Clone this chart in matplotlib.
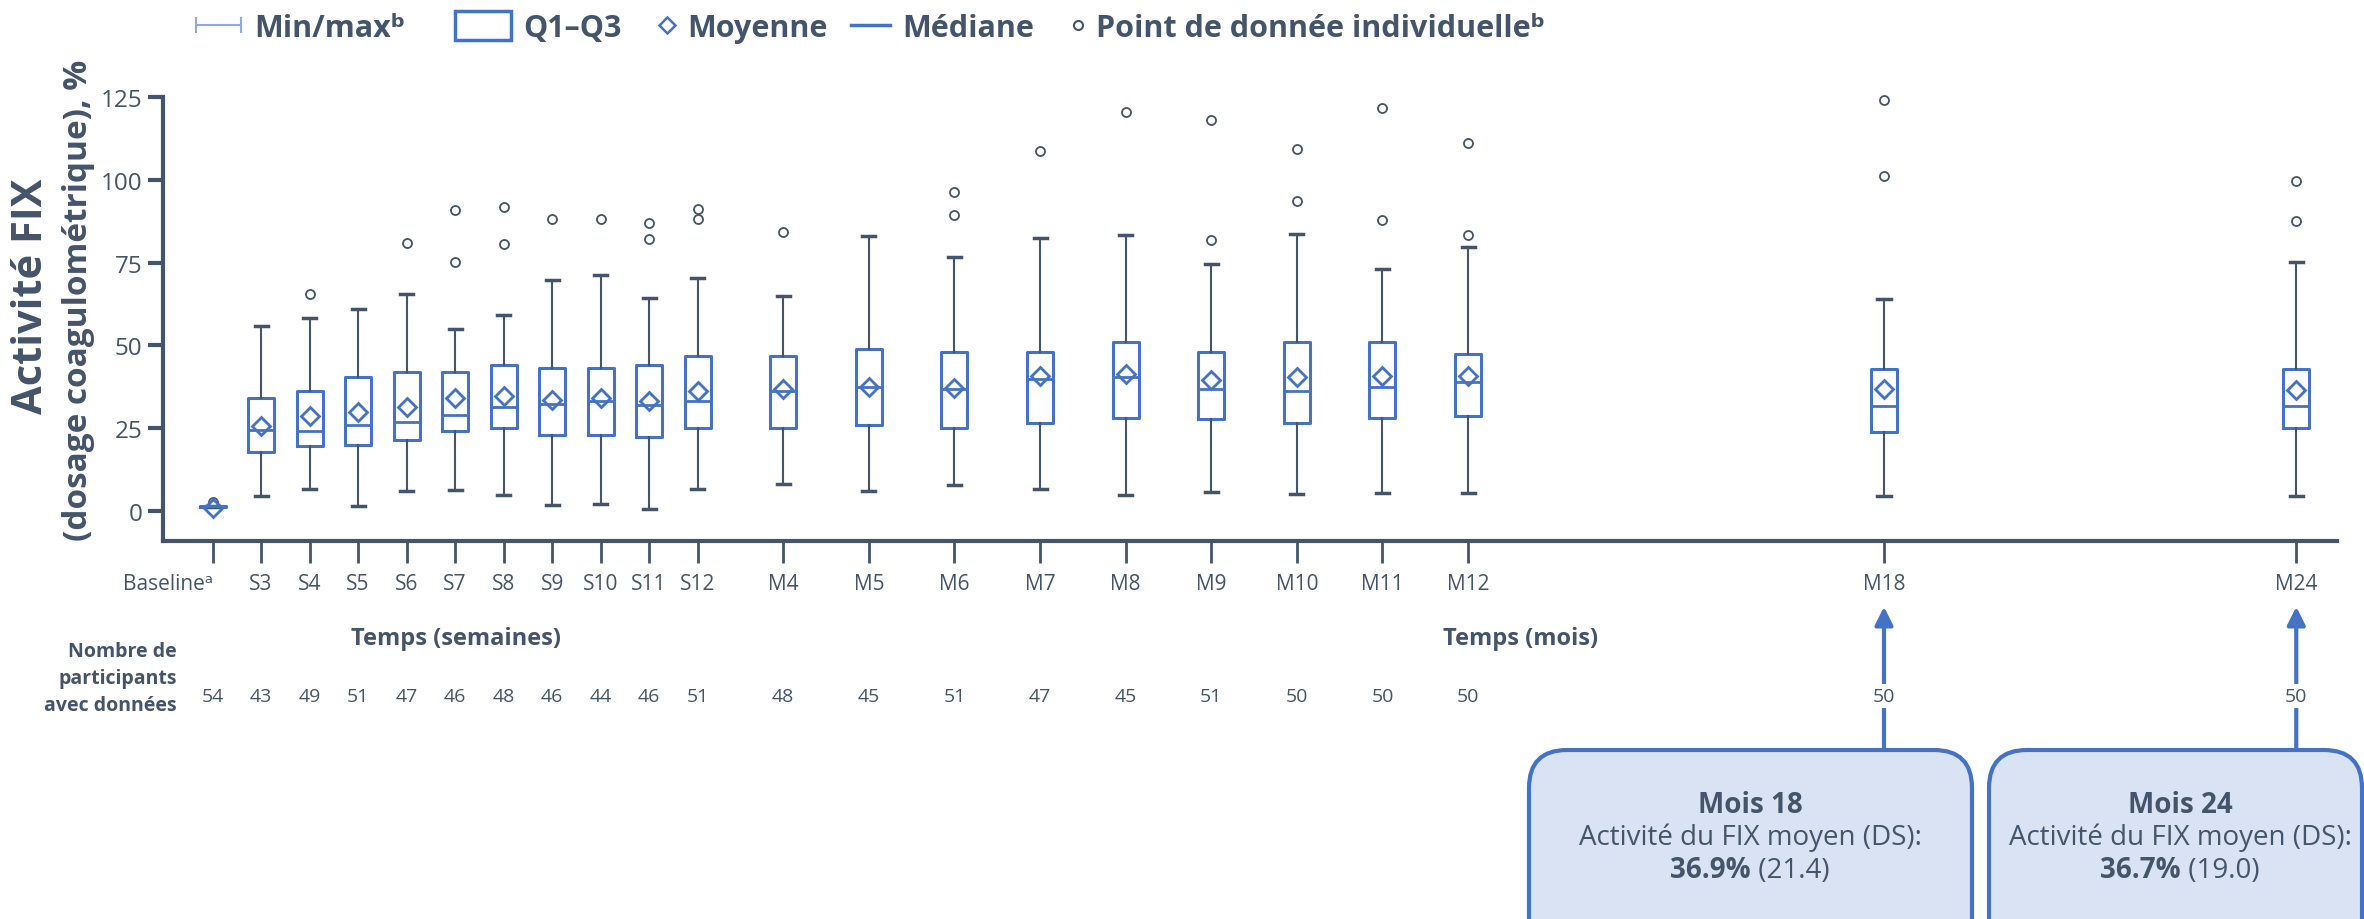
import matplotlib
matplotlib.use('Agg')
import matplotlib.pyplot as plt
from matplotlib.patches import FancyBboxPatch, Rectangle, FancyArrowPatch
from matplotlib.lines import Line2D

FAM = ['Open Sans', 'DejaVu Sans']
plt.rcParams['font.family'] = FAM

# ---------------- data ----------------
timepoints = ['Baselineᵃ', 'S3', 'S4', 'S5', 'S6', 'S7', 'S8', 'S9', 'S10', 'S11', 'S12',
              'M4', 'M5', 'M6', 'M7', 'M8', 'M9', 'M10', 'M11', 'M12', 'M18', 'M24']
q1 = [1.3, 17.8, 19.8, 20.1, 21.6, 24.3, 25.0, 23.0, 23.0, 22.4, 25.2,
      25.2, 25.9, 25.2, 26.5, 28.1, 27.8, 26.6, 28.0, 28.7, 23.8, 25.0]
median = [1.5, 24.5, 24.2, 26.1, 27.0, 29.1, 31.5, 32.3, 33.3, 32.0, 33.2,
          36.2, 37.5, 36.8, 39.9, 40.6, 36.8, 36.3, 37.5, 39.0, 31.6, 31.6]
q3 = [1.7, 34.1, 36.2, 40.5, 41.9, 41.9, 44.0, 43.2, 43.2, 44.0, 46.9,
      46.9, 48.9, 48.1, 48.1, 51.1, 48.1, 51.0, 51.0, 47.5, 42.9, 42.9]
mean = [1.0, 25.8, 28.8, 30.0, 31.3, 34.3, 34.8, 33.5, 34.2, 33.4, 36.3,
        36.9, 37.6, 37.1, 40.9, 41.4, 39.6, 40.4, 40.7, 40.8, 36.9, 36.7]
minimum = [1.3, 4.7, 6.7, 1.7, 6.1, 6.4, 5.0, 2.0, 2.3, 0.7, 6.6,
           8.2, 6.1, 7.9, 6.7, 5.0, 5.9, 5.3, 5.6, 5.5, 4.7, 4.7]
maximum = [1.7, 56.0, 58.2, 61.1, 65.5, 55.0, 59.1, 69.6, 71.1, 64.4, 70.2,
           64.9, 83.1, 76.7, 82.3, 83.3, 74.6, 83.6, 73.1, 79.7, 64.0, 75.3]
individual_points = [[2.7], [], [65.5], [], [80.8], [75.1, 90.7], [80.5, 91.8], [88.2], [88.2],
                     [82.0, 86.9], [88.2, 91.0], [84.2], [], [89.2, 96.3], [108.6], [120.5],
                     [81.8, 118.0], [93.5, 109.3], [87.8, 121.7], [83.4, 110.9],
                     [101.1, 124.0], [87.4, 99.6]]
n_participants = [54, 43, 49, 51, 47, 46, 48, 46, 44, 46, 51,
                  48, 45, 51, 47, 45, 51, 50, 50, 50, 50, 50]
y_ticks = [0, 25, 50, 75, 100, 125]

# ---------------- layout ----------------
MONTH = 1.765
positions = list(range(11)) + [10 + MONTH * k for k in range(1, 10)] + [34.46, 42.96]

DARK = '#44546A'
BLUE = '#4472C4'
LIGHTBLUE = '#8FAADC'
FILL = '#DAE3F3'

W, H = 2364, 920
fig = plt.figure(figsize=(W / 100, H / 100), dpi=100)
ax = fig.add_axes([163 / W, 1 - 542 / H, (2337 - 163) / W, (542 - 97.7) / H])


def P(x, y):
    return (x / 100, (H - y) / 100)


stats = []
for i, lab in enumerate(timepoints):
    stats.append(dict(label=lab, q1=q1[i], med=median[i], q3=q3[i], mean=mean[i],
                      whislo=minimum[i], whishi=maximum[i], fliers=individual_points[i]))

res = ax.bxp(stats, positions=positions, widths=0.536, capwidths=0.27,
             showmeans=True, meanline=False, showfliers=True, patch_artist=False,
             boxprops=dict(color=BLUE, lw=2.2),
             medianprops=dict(color=BLUE, lw=2.0),
             whiskerprops=dict(color=DARK, lw=1.5),
             capprops=dict(color=DARK, lw=2.5),
             meanprops=dict(marker='D', markerfacecolor='none', markeredgecolor=BLUE,
                            markeredgewidth=2.0, markersize=9),
             flierprops=dict(marker='o', markerfacecolor='none', markeredgecolor=DARK,
                             markeredgewidth=1.3, markersize=6.5),
             manage_ticks=False)
for f in res['fliers']:
    f.set_clip_on(False)
for m in res['means']:
    m.set_clip_on(False)
    m.set_zorder(4)

ax.set_xlim(-1.023, 43.80)
ax.set_ylim(-8.95, 125)

for s in ['top', 'right']:
    ax.spines[s].set_visible(False)
for s in ['left', 'bottom']:
    ax.spines[s].set_color(DARK)
    ax.spines[s].set_linewidth(3)

ax.set_yticks(y_ticks)
ax.set_yticklabels([str(v) for v in y_ticks])
ax.tick_params(axis='y', length=11, width=3, color=DARK, pad=4, labelsize=17.5, labelcolor=DARK)
ax.set_xticks(positions)
ax.set_xticklabels(timepoints)
ax.tick_params(axis='x', length=16, width=2, color=DARK, pad=7, labelsize=15, labelcolor=DARK)
xl = ax.get_xticklabels()
xl[0].set_ha('right')

# y label (two lines)
fig.text(*P(32, 296), 'Activité FIX', transform=fig.dpi_scale_trans, rotation=90,
         ha='center', va='center', fontsize=30, fontweight='bold', color=DARK)
fig.text(*P(79, 300), '(dosage coagulométrique), %', transform=fig.dpi_scale_trans, rotation=90,
         ha='center', va='center', fontsize=24, fontweight='bold', color=DARK)

# axis captions
fig.text(*P(456, 645), 'Temps (semaines)', transform=fig.dpi_scale_trans, ha='center',
         va='baseline', fontsize=17, fontweight='bold', color=DARK)
fig.text(*P(1521, 645), 'Temps (mois)', transform=fig.dpi_scale_trans, ha='center',
         va='baseline', fontsize=17, fontweight='bold', color=DARK)

for txt, yb in [('Nombre de', 657), ('participants', 684), ('avec données', 711)]:
    fig.text(*P(177, yb), txt, transform=fig.dpi_scale_trans, ha='right', va='baseline',
             fontsize=14, fontweight='bold', color=DARK)

# participant counts, placed under each x position
for i, (xp, n) in enumerate(zip(positions, n_participants)):
    px = ax.transData.transform((xp, 0))[0]
    kw = {}
    if i >= 20:
        kw['bbox'] = dict(facecolor='white', edgecolor='none', pad=2)
    fig.text(px / 100, (H - 702) / 100, str(n), transform=fig.dpi_scale_trans, ha='center',
             va='baseline', fontsize=14, color=DARK, zorder=5, **kw)

# arrows and callout boxes
for xp in positions[20:]:
    px = ax.transData.transform((xp, 0))[0]
    arr = FancyArrowPatch(P(px, 751), P(px, 605), transform=fig.dpi_scale_trans,
                          arrowstyle='-|>,head_length=0.4,head_width=0.2', mutation_scale=27,
                          lw=3, color=BLUE, zorder=2)
    fig.add_artist(arr)

for (x0, x1) in [(1529, 1972), (1989, 2362)]:
    bx = FancyBboxPatch(P(x0, 960), (x1 - x0) / 100, (960 - 751) / 100,
                        boxstyle='round,pad=0,rounding_size=0.38', transform=fig.dpi_scale_trans,
                        facecolor=FILL, edgecolor=BLUE, lw=3, zorder=3)
    fig.add_artist(bx)

renderer = fig.canvas.get_renderer()


def mixed(parts, cx, yb, size):
    arts = []
    for t, w in parts:
        a = fig.text(0, 0, t, transform=fig.dpi_scale_trans, fontsize=size, fontweight=w,
                     color=DARK, ha='left', va='baseline', zorder=6)
        arts.append(a)
    widths = [a.get_window_extent(renderer).width for a in arts]
    x = cx - sum(widths) / 2
    for a, wd in zip(arts, widths):
        a.set_position(P(x, yb))
        x += wd


for cx, title, val, sd in [(1750, 'Mois 18', '36.9%', ' (21.4)'), (2180, 'Mois 24', '36.7%', ' (19.0)')]:
    fig.text(*P(cx, 813), title, transform=fig.dpi_scale_trans, ha='center', va='baseline',
             fontsize=20, fontweight='bold', color=DARK, zorder=6)
    fig.text(*P(cx, 845), 'Activité du FIX moyen (DS):', transform=fig.dpi_scale_trans,
             ha='center', va='baseline', fontsize=20, color=DARK, zorder=6)
    mixed([(val, 'bold'), (sd, 'normal')], cx, 878, 20)

# legend
T = fig.dpi_scale_trans
fig.add_artist(Line2D([196 / 100, 241 / 100], [(H - 26) / 100] * 2, transform=T, color=LIGHTBLUE, lw=1.5))
for xx in (196, 241):
    fig.add_artist(Line2D([xx / 100] * 2, [(H - 19) / 100, (H - 33) / 100], transform=T, color=LIGHTBLUE, lw=1.5))
fig.add_artist(Rectangle(P(455, 41), 56 / 100, 29 / 100, transform=T, facecolor='white',
                         edgecolor=BLUE, lw=2.5))
fig.add_artist(Line2D([667 / 100], [(H - 26) / 100], transform=T, marker='D', markersize=8.5,
                      markerfacecolor='none', markeredgecolor=BLUE, markeredgewidth=1.8))
fig.add_artist(Line2D([851 / 100, 890 / 100], [(H - 26) / 100] * 2, transform=T, color=BLUE, lw=2.5))
fig.add_artist(Line2D([1078 / 100], [(H - 26) / 100], transform=T, marker='o', markersize=6.5,
                      markerfacecolor='none', markeredgecolor=DARK, markeredgewidth=1.5))
for x, s in [(254, 'Min/maxᵇ'), (523, 'Q1–Q3'), (687, 'Moyenne'), (902, 'Médiane'),
             (1096, 'Point de donnée individuelleᵇ')]:
    fig.text(*P(x, 37), s, transform=T, ha='left', va='baseline', fontsize=22,
             fontweight='bold', color=DARK)

fig.savefig('out.png', dpi=100, facecolor='white')
